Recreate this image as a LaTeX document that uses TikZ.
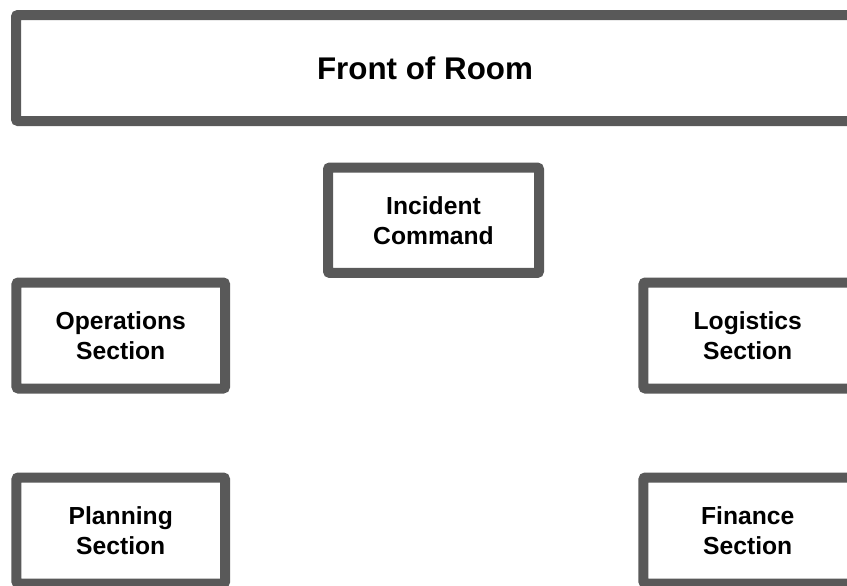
\documentclass[tikz,border=0pt]{standalone}
\usepackage{fontspec}
\setmainfont{Liberation Sans}
\usepackage{tikz}
\usetikzlibrary{positioning}
\tikzset{secbox/.style = {draw=boxgray, line width=7.5pt, rounded corners=1.5pt,
                          fill=white, align=center, inner sep=0pt,
                          font=\fontsize{18.5}{22.5}\selectfont\bfseries,
                          minimum width=156.4pt, minimum height=79.5pt}}
\tikzset{roomtitle/.style = {font=\fontsize{23.5}{28}\selectfont\bfseries}}
\definecolor{boxgray}{RGB}{89, 89, 89}

\begin{document}
\begin{tikzpicture}[x=0.75pt, y=-0.75pt]
      \useasboundingbox (0, 0) rectangle (847, 586);
      \clip (0, 0) rectangle (847, 586);

      \node [secbox, minimum width=648pt] (front) at (448, 68) {};
      \node [roomtitle] (frontlabel) at (425, 68) {Front of Room};

      \node [secbox, minimum width=158.25pt, minimum height=79.1pt] (command) at (433.5, 220.25) {Incident\\Command};

      \node [secbox] (operations) at (120.75, 335.5) {Operations\\Section};
      \node [secbox] (planning) at (120.75, 530.5) {Planning\\Section};
      \node [secbox] (logistics) at (747.75, 335.5) {Logistics\\Section};
      \node [secbox] (finance) at (747.75, 530.5) {Finance\\Section};
    \end{tikzpicture}
\end{document}
